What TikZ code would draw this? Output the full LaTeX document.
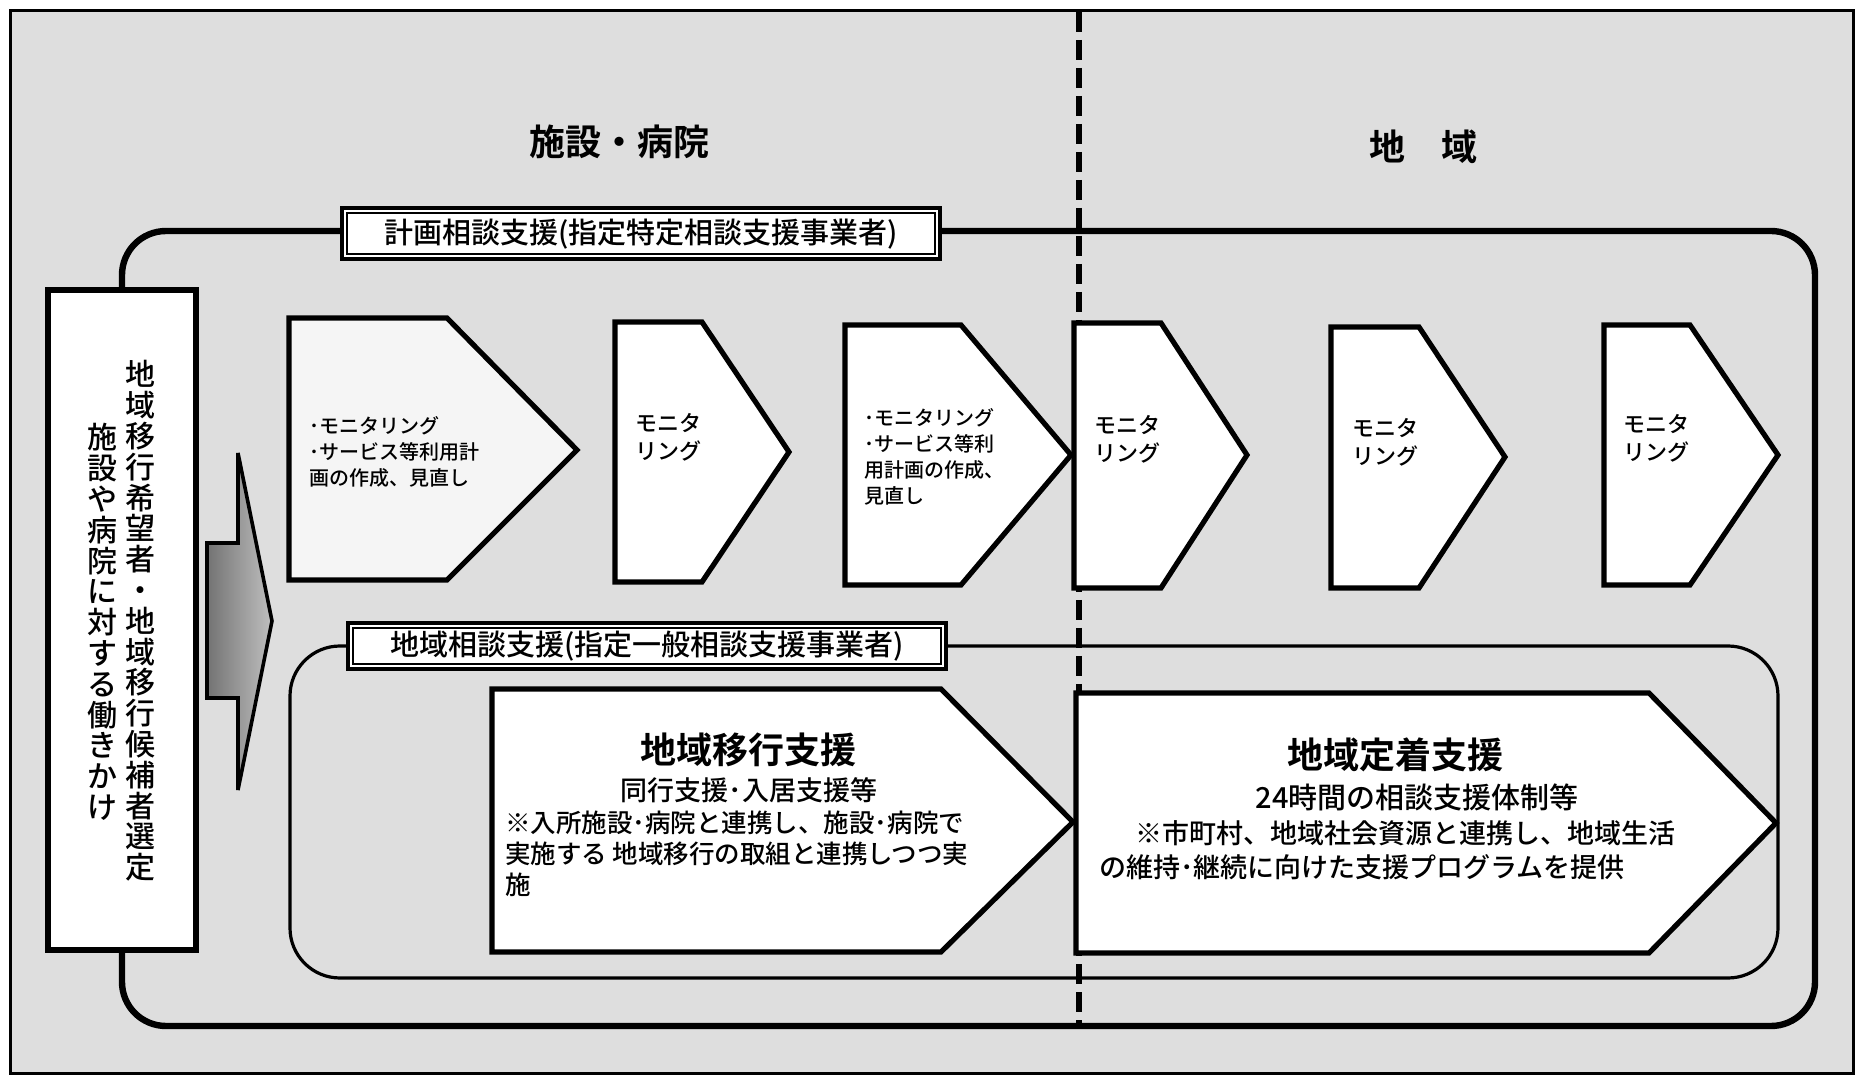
\documentclass[tikz,border=0pt]{standalone}
\usepackage{fontspec}
\setmainfont{Noto Sans CJK JP}[UprightFont={* Medium},BoldFont={* Bold}]
\newcommand\fsz[2]{\fontsize{#1pt}{#2pt}\selectfont\lineskiplimit=-20pt\relax}
\newcommand\pentagon[7]{\draw[pent,#7] (#1,#2) -- (#3,#2) -- (#4,#5) -- (#3,#6) -- (#1,#6) -- cycle;}
\begin{document}
\begin{tikzpicture}[x=0.5pt,y=-0.5pt,
  txt/.style={inner sep=0pt,outer sep=0pt},
  pent/.style={draw,line width=2.6pt,fill=white,line join=miter},
  hdr/.style={txt,font=\fsz{18}{20}\bfseries},
  lab/.style={txt,font=\fsz{14.5}{16}},
  small/.style={txt,align=left,anchor=west,font=\fsz{10}{13}},
  moni/.style={txt,align=left,anchor=west,font=\fsz{11}{14}},
  vert/.style={txt,align=center,font=\fsz{15}{15.4}},
  btitle/.style={txt,font=\fsz{18}{20}\bfseries},
]
\useasboundingbox (0,0) rectangle (1860,1080);
\fill[white] (0,0) rectangle (1860,1080);
% frame with grey background
\draw[line width=1.5pt,fill=black!13] (10,11) rectangle (1853,1073);
% headers
\node[hdr] (h1) at (619,142) {施設・病院};
\node[hdr] (h2) at (1423,147) {地　域};
% dashed divider
\draw[line width=3pt,dash pattern=on 10pt off 4pt] (1079,12) -- (1079,1026);
% outer loop (planning consultation)
\draw[line width=3.2pt,rounded corners=22pt] (122,231) rectangle (1815,1026);
% inner loop (community consultation)
\draw[line width=1.6pt,rounded corners=25pt] (290,646) rectangle (1778,978);
% left box
\draw[line width=2.6pt,fill=white] (48,290) rectangle (196,950);
\node[vert] (v1) at (140,621) {地\\域\\移\\行\\希\\望\\者\\・\\地\\域\\移\\行\\候\\補\\者\\選\\定};
\node[vert] (v2) at (102,622) {施\\設\\や\\病\\院\\に\\対\\す\\る\\働\\き\\か\\け};
% grey block arrow
\draw[line width=1.8pt,left color=black!55,right color=black!25,line join=miter] (207,543) -- (238,543) -- (238,453) -- (272,621) -- (238,790) -- (238,698) -- (207,698) -- cycle;
% label box 1
\draw[line width=1.6pt,fill=white] (342,208) rectangle (940,259);
\draw[line width=0.6pt] (347,213) rectangle (935,254);
\node[lab] (l1) at (641,234) {計画相談支援(指定特定相談支援事業者)};
% label box 2
\draw[line width=1.6pt,fill=white] (348,623) rectangle (946,669);
\draw[line width=0.6pt] (353,628) rectangle (941,664);
\node[lab] (l2) at (647,646) {地域相談支援(指定一般相談支援事業者)};
% row of pentagons
\pentagon{289}{318}{447}{577}{450}{580}{fill=black!4}
\pentagon{615}{322}{702}{789}{452}{582}{}
\pentagon{845}{325}{961}{1071}{455}{585}{}
\pentagon{1074}{323}{1161}{1247}{455}{588}{}
\pentagon{1331}{327}{1419}{1505}{457}{588}{}
\pentagon{1604}{325}{1690}{1778}{455}{585}{}
\node[small] (t1) at (309,452) {･モニタリング\\･サービス等利用計\\画の作成、見直し};
\node[moni] (t2) at (635,437) {モニタ\\リング};
\node[small] (t3) at (864,457) {･モニタリング\\･サービス等利\\用計画の作成、\\見直し};
\node[moni] (t4) at (1094,439) {モニタ\\リング};
\node[moni] (t5) at (1352,442) {モニタ\\リング};
\node[moni] (t6) at (1623,438) {モニタ\\リング};
% big pentagons
\pentagon{492}{689}{941}{1073}{822}{952}{}
\pentagon{1076}{693}{1649}{1776}{823}{953}{}
\node[btitle] (b1t) at (748,750) {地域移行支援};
\node[txt,font=\fsz{13.5}{15}] (b1s) at (749,790) {同行支援･入居支援等};
\node[txt,align=left,anchor=west,font=\fsz{12.75}{15.5}] (b1n) at (505,854) {※入所施設･病院と連携し、施設･病院で\\実施する 地域移行の取組と連携しつつ実\\施};
\node[btitle] (b2t) at (1395,755) {地域定着支援};
\node[txt,font=\fsz{14.5}{16}] (b2s) at (1417,797) {24時間の相談支援体制等};
\node[txt,anchor=west,font=\fsz{13.5}{15}] (b2n1) at (1135,833) {※市町村、地域社会資源と連携し、地域生活};
\node[txt,anchor=west,font=\fsz{13.5}{15}] (b2n2) at (1099,867) {の維持･継続に向けた支援プログラムを提供};
\end{tikzpicture}
\end{document}
